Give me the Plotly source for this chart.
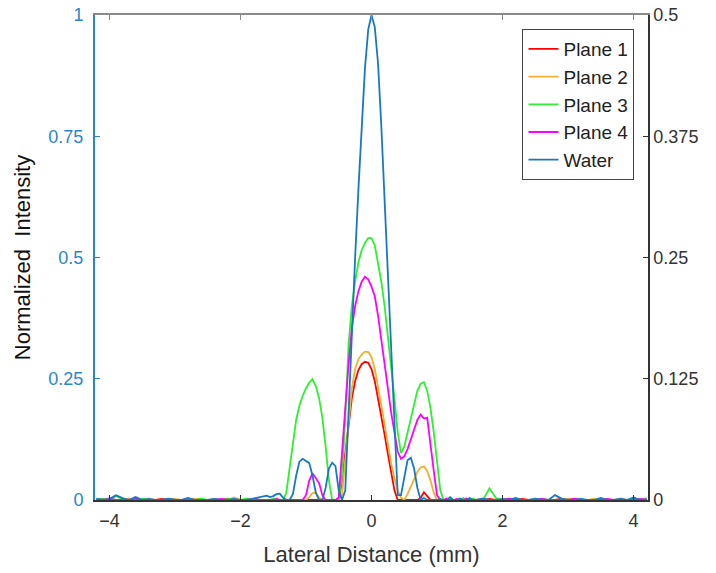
import numpy as np
import plotly.graph_objects as go

# Lateral positions (mm): coarse sampling on the flanks, finer sampling near the focus
x_left = np.round(np.arange(-4.2, -1.55, 0.1), 2)
x_mid = np.round(np.arange(-1.55, 1.5501, 0.05), 2)
x_right = np.round(np.arange(1.6, 4.2001, 0.1), 2)
x_mm = np.concatenate([x_left, x_mid, x_right])

# ---- Water ----
water_left = [0.003, 0.0, 0.002, 0.010, 0.004, 0.0, 0.006, 0.0, 0.002, 0.0, 0.0, 0.003, 0.0,
              0.0, 0.004, 0.0, 0.0, 0.0, 0.002, 0.0, 0.0, 0.002, 0.0, 0.0, 0.003, 0.006, 0.009]
water_mid = [0.006, 0.008, 0.012, 0.013, 0.005, 0.0, 0.0, 0.012, 0.050, 0.079,
             0.085, 0.081, 0.076, 0.050, 0.015, 0.0, 0.0, 0.025, 0.065, 0.077,
             0.070, 0.020, 0.0, 0.020, 0.190, 0.340, 0.500, 0.640, 0.770, 0.890,
             0.970, 1.000, 0.975, 0.900, 0.770, 0.620, 0.470, 0.310, 0.150, 0.010,
             0.010, 0.050, 0.082, 0.087, 0.065, 0.025, 0.0, 0.004, 0.0, 0.0,
             0.0, 0.0, 0.002, 0.0, 0.0, 0.006, 0.0, 0.0, 0.003, 0.0,
             0.0, 0.004, 0.0]
water_right = [0.0, 0.003, 0.0, 0.0, 0.002, 0.0, 0.004, 0.0, 0.0, 0.003, 0.0, 0.0, 0.010,
               0.003, 0.0, 0.0, 0.002, 0.0, 0.0, 0.004, 0.0, 0.0, 0.003, 0.0, 0.005, 0.0, 0.002]

# ---- Plane 1 ----
plane1_left = [0.0, 0.002, 0.0, 0.0, 0.0, 0.003, 0.0, 0.0, 0.0, 0.0, 0.002, 0.0, 0.0,
               0.0, 0.0, 0.002, 0.0, 0.0, 0.0, 0.0, 0.003, 0.0, 0.0, 0.0, 0.0, 0.0, 0.0]
plane1_mid = [0.0, 0.0, 0.0, 0.0, 0.0, 0.0, 0.0, 0.0, 0.0, 0.0,
              0.0, 0.0, 0.0, 0.0, 0.0, 0.0, 0.0, 0.0, 0.0, 0.0,
              0.0, 0.0, 0.040, 0.100, 0.160, 0.210, 0.245, 0.268, 0.280, 0.285,
              0.283, 0.270, 0.245, 0.210, 0.175, 0.135, 0.095, 0.055, 0.020, 0.0,
              0.0, 0.0, 0.0, 0.0, 0.0, 0.0, 0.004, 0.016, 0.008, 0.0,
              0.0, 0.0, 0.0, 0.0, 0.002, 0.0, 0.0, 0.0, 0.0, 0.0,
              0.002, 0.0, 0.0]
plane1_right = [0.0, 0.0, 0.002, 0.0, 0.0, 0.0, 0.0, 0.002, 0.0, 0.0, 0.0, 0.0, 0.0,
                0.003, 0.0, 0.0, 0.0, 0.0, 0.0, 0.002, 0.0, 0.0, 0.0, 0.0, 0.0, 0.0, 0.0]

# ---- Plane 2 ----
plane2_left = [0.0, 0.0, 0.004, 0.0, 0.0, 0.002, 0.0, 0.0, 0.003, 0.0, 0.0, 0.0, 0.002,
               0.0, 0.0, 0.003, 0.0, 0.0, 0.002, 0.0, 0.0, 0.005, 0.0, 0.0, 0.002, 0.0, 0.0]
plane2_mid = [0.0, 0.0, 0.003, 0.0, 0.0, 0.0, 0.0, 0.0, 0.0, 0.0,
              0.0, 0.0, 0.006, 0.014, 0.015, 0.005, 0.0, 0.0, 0.0, 0.0,
              0.0, 0.0, 0.010, 0.085, 0.172, 0.230, 0.270, 0.290, 0.300, 0.306,
              0.305, 0.295, 0.270, 0.235, 0.195, 0.155, 0.115, 0.075, 0.045, 0.020,
              0.005, 0.0, 0.012, 0.028, 0.045, 0.058, 0.067, 0.069, 0.060, 0.040,
              0.015, 0.0, 0.0, 0.0, 0.002, 0.0, 0.0, 0.0, 0.0, 0.003,
              0.0, 0.0, 0.0]
plane2_right = [0.0, 0.002, 0.0, 0.0, 0.0, 0.003, 0.0, 0.0, 0.0, 0.002, 0.0, 0.0, 0.0,
                0.0, 0.003, 0.0, 0.0, 0.0, 0.002, 0.0, 0.0, 0.0, 0.003, 0.0, 0.0, 0.0, 0.004]

# ---- Plane 3 ----
plane3_left = [0.0, 0.002, 0.0, 0.008, 0.002, 0.0, 0.0, 0.003, 0.0, 0.0, 0.0, 0.002, 0.0,
               0.0, 0.0, 0.0, 0.003, 0.0, 0.0, 0.0, 0.002, 0.0, 0.0, 0.003, 0.0, 0.0, 0.0]
plane3_mid = [0.0, 0.003, 0.0, 0.0, 0.0, 0.015, 0.062, 0.115, 0.165, 0.195,
              0.215, 0.230, 0.242, 0.249, 0.235, 0.210, 0.170, 0.110, 0.040, 0.0,
              0.0, 0.0, 0.050, 0.170, 0.320, 0.400, 0.450, 0.490, 0.515, 0.530,
              0.540, 0.540, 0.525, 0.490, 0.450, 0.400, 0.340, 0.280, 0.210, 0.140,
              0.097, 0.110, 0.140, 0.170, 0.200, 0.225, 0.240, 0.243, 0.225, 0.190,
              0.140, 0.080, 0.020, 0.0, 0.0, 0.003, 0.0, 0.0, 0.0, 0.004,
              0.0, 0.0, 0.003]
plane3_right = [0.0, 0.0, 0.024, 0.004, 0.0, 0.0, 0.002, 0.0, 0.0, 0.0, 0.003, 0.0, 0.0,
                0.0, 0.0, 0.002, 0.0, 0.0, 0.0, 0.003, 0.0, 0.0, 0.0, 0.0, 0.002, 0.0, 0.0]

# ---- Plane 4 ----
plane4_left = [0.0, 0.0, 0.002, 0.0, 0.0, 0.0, 0.003, 0.0, 0.0, 0.0, 0.0, 0.002, 0.0,
               0.0, 0.003, 0.0, 0.0, 0.0, 0.0, 0.002, 0.0, 0.0, 0.0, 0.0, 0.003, 0.0, 0.0]
plane4_mid = [0.0, 0.0, 0.002, 0.0, 0.0, 0.0, 0.0, 0.0, 0.0, 0.0,
              0.0, 0.010, 0.040, 0.055, 0.045, 0.035, 0.010, 0.0, 0.0, 0.0,
              0.0, 0.005, 0.090, 0.190, 0.280, 0.355, 0.400, 0.430, 0.450, 0.460,
              0.455, 0.440, 0.420, 0.380, 0.330, 0.280, 0.225, 0.180, 0.140, 0.100,
              0.085, 0.090, 0.105, 0.125, 0.145, 0.165, 0.176, 0.168, 0.170, 0.110,
              0.060, 0.010, 0.0, 0.0, 0.003, 0.0, 0.0, 0.002, 0.0, 0.0,
              0.003, 0.0, 0.0]
plane4_right = [0.0, 0.002, 0.0, 0.0, 0.0, 0.003, 0.0, 0.0, 0.0, 0.0, 0.002, 0.0, 0.0,
                0.0, 0.0, 0.003, 0.0, 0.0, 0.0, 0.0, 0.002, 0.0, 0.0, 0.0, 0.0, 0.002, 0.0]

series = [
    ("Plane 1", plane1_left + plane1_mid + plane1_right, "#FF0000"),
    ("Plane 2", plane2_left + plane2_mid + plane2_right, "#F0B030"),
    ("Plane 3", plane3_left + plane3_mid + plane3_right, "#2EF02E"),
    ("Plane 4", plane4_left + plane4_mid + plane4_right, "#FF00FF"),
    ("Water", water_left + water_mid + water_right, "#1679C2"),
]

left_ticks = [0, 0.25, 0.5, 0.75, 1]
left_labels = ["0", "0.25", "0.5", "0.75", "1"]
right_ticks = [0, 0.125, 0.25, 0.375, 0.5]
right_labels = ["0", "0.125", "0.25", "0.375", "0.5"]
x_ticks = [-4, -2, 0, 2, 4]

FONT = "Liberation Sans, Arial, sans-serif"
LEFT_BLUE = "#2b86c9"
DARK = "#333333"

fig = go.Figure()
for i, (name, vals, color) in enumerate(series):
    fig.add_trace(go.Scatter(
        x=x_mm, y=vals, mode="lines", name=name,
        line=dict(color=color, width=1.8),
        legendgroup=f"g{i}",
    ))

# helper trace so the right-hand and top axes are drawn
fig.add_trace(go.Scatter(x=[0], y=[0], xaxis="x2", yaxis="y2", mode="markers",
                         marker=dict(opacity=0), showlegend=False, hoverinfo="skip"))

fig.update_layout(
    width=716, height=573,
    margin=dict(l=95, r=68, t=15, b=73),
    paper_bgcolor="white", plot_bgcolor="white",
    font=dict(family=FONT, size=18, color=DARK),
    showlegend=True,
    legend=dict(
        x=0.773, y=0.971, xanchor="left", yanchor="top",
        bgcolor="white", bordercolor="#444444", borderwidth=1,
        font=dict(family=FONT, size=19, color="#222222"),
        tracegroupgap=0,
    ),
    xaxis=dict(
        range=[-4.22, 4.22], tickvals=x_ticks, ticks="inside", ticklen=5,
        tickcolor=DARK, showline=True, linecolor=DARK, linewidth=1.5,
        showgrid=False, zeroline=False, automargin=False,
        tickfont=dict(size=18, color=DARK), ticklabelstandoff=4,
        title=dict(text="Lateral Distance (mm)", font=dict(size=22, color=DARK), standoff=16),
    ),
    xaxis2=dict(
        overlaying="x", side="top", matches="x", range=[-4.22, 4.22],
        tickvals=x_ticks, ticks="inside", ticklen=5, tickcolor="#8a8a8a",
        showticklabels=False, showline=True, linecolor="#8a8a8a", linewidth=2,
        showgrid=False, zeroline=False, automargin=False,
    ),
    yaxis=dict(
        range=[0, 1], tickvals=left_ticks, ticktext=left_labels,
        ticks="inside", ticklen=5, tickcolor=LEFT_BLUE,
        showline=True, linecolor=LEFT_BLUE, linewidth=2,
        showgrid=False, zeroline=False, automargin=False,
        tickfont=dict(size=18, color=LEFT_BLUE), ticklabelstandoff=6,
        title=dict(text="Normalized  Intensity", font=dict(size=22, color="#111111"), standoff=12),
    ),
    yaxis2=dict(
        overlaying="y", side="right", range=[0, 0.5],
        tickvals=right_ticks, ticktext=right_labels,
        ticks="inside", ticklen=5, tickcolor=DARK,
        showline=True, linecolor=DARK, linewidth=1.5,
        showgrid=False, zeroline=False, automargin=False,
        tickfont=dict(size=18, color=DARK),
    ),
)

fig.write_html("out.html")
